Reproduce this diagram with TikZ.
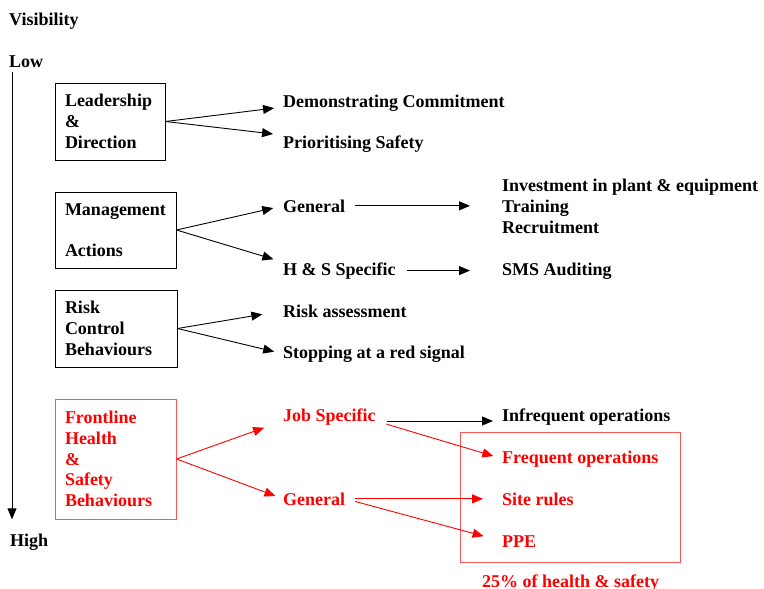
\documentclass[tikz,border=0pt]{standalone}
\usepackage{fontspec}
\setmainfont{Liberation Serif}
\usetikzlibrary{arrows.meta}
\definecolor{framered}{RGB}{255,85,85}
\hyphenpenalty=10000
\exhyphenpenalty=10000

\begin{document}
\begin{tikzpicture}[x=1pt, y=-1pt,
  every node/.style={font=\fontsize{18}{20.75}\selectfont\bfseries},
  levelbox/.style={draw=black, line width=1pt, align=left, inner xsep=10pt, inner ysep=0pt},
  item/.style={anchor=base west, inner sep=0pt},
  link/.style={line width=0.9pt, -{Triangle[length=11pt,width=9pt]}},
  redlink/.style={link, draw=red}]

\useasboundingbox (0,0) rectangle (764,589);

% visibility axis
\node[item] (vis) at (9,25) {Visibility};
\node[item] (low) at (9,67) {Low};
\node[item] (high) at (10,546) {High};
\draw[link, shorten <=5pt, shorten >=14pt] ([xshift=3pt]low.south west) -- ([xshift=2pt]high.north west);

% levels
\node[levelbox, text width=90pt, minimum height=77pt] (lead) at (110,121.5) {Leadership\\ \&\\ Direction};
\node[levelbox, text width=101pt, minimum height=76pt] (mgmt) at (115.5,230) {Management\\ ~\\ Actions};
\node[levelbox, text width=102pt, minimum height=77pt] (risk) at (116,328.5) {Risk\\ Control\\ Behaviours};
\node[levelbox, draw=framered, text=red, text width=101pt, minimum height=120pt] (front) at (115.5,459) {Frontline\\ Health\\ \&\\ Safety\\ Behaviours};

% examples
\node[item] (demo) at (283,107) {Demonstrating Commitment};
\node[item] (prio) at (283,148) {Prioritising Safety};
\node[item] (gen) at (283,212) {General};
\node[item] (hs) at (283,275) {H \& S Specific};
\node[item] (invest) at (502,191) {Investment in plant \& equipment};
\node[item] (training) at (502,212) {Training};
\node[item] (recruit) at (502,233) {Recruitment};
\node[item] (sms) at (502,275) {SMS Auditing};
\node[item] (riskass) at (283,317) {Risk assessment};
\node[item] (stop) at (283,358) {Stopping at a red signal};
\node[item, text=red] (job) at (283,421) {Job Specific};
\node[item, text=red] (genfront) at (283,505) {General};
\node[item] (infreq) at (502,421) {Infrequent operations};
\node[item, text=red] (freq) at (502,463) {Frequent operations};
\node[item, text=red] (site) at (502,505) {Site rules};
\node[item, text=red] (ppe) at (502,547) {PPE};
\node[draw=framered, line width=1pt, minimum width=220pt, minimum height=130pt, inner sep=0pt] (critical) at (570,497) {};
\node[item, text=red] (share) at (482,587) {25\% of health \& safety};

\draw[link, shorten >=9pt] (lead.east) -- (demo.base west);
\draw[link, shorten >=10pt] (lead.east) -- (prio.north west);
\draw[link, shorten >=10pt] (mgmt.east) -- (gen.west);
\draw[link, shorten >=10pt] (mgmt.east) -- (hs.north west);
\draw[link, shorten <=10pt, shorten >=32pt] (gen.east) -- (gen.east -| training.west);
\draw[link, shorten <=11pt, shorten >=32pt] (hs.east) -- (hs.east -| sms.west);
\draw[link, shorten >=21pt] (risk.east) -- (riskass.west);
\draw[link, shorten >=9pt] (risk.east) -- (stop.west);
\draw[redlink, shorten >=20pt] (front.east) -- (job.base west);
\draw[redlink, shorten >=8pt] (front.east) -- (genfront.west);
\draw[link, shorten <=11pt, shorten >=9pt] (job.base east) -- (infreq.base west);
\draw[redlink, shorten <=11pt, shorten >=9pt] (job.base east) -- (freq.west);
\draw[redlink, shorten <=10pt, shorten >=19pt] (genfront.east) -- (genfront.east -| site.west);
\draw[redlink, shorten <=10pt, shorten >=19pt] (genfront.east) -- (ppe.west);

\end{tikzpicture}
\end{document}
